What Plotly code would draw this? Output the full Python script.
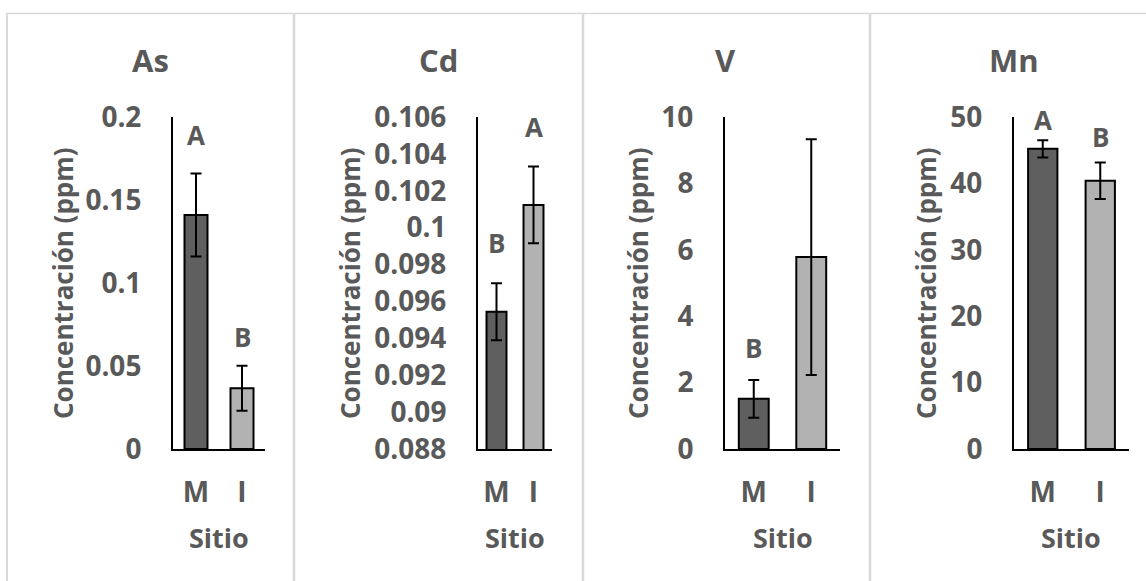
import plotly.graph_objects as go

# ---------------- data ----------------
sites = ["M", "I"]
elements = ["As", "Cd", "V", "Mn"]

as_mean = [0.141, 0.0366]
as_err = [0.025, 0.0135]
as_letters = ["A", "B"]
as_letter_y = [0.189, 0.0677]

cd_mean = [0.09544, 0.10123]
cd_err = [0.00154, 0.00208]
cd_letters = ["B", "A"]
cd_letter_y = [0.09917, 0.10546]

v_mean = [1.51, 5.78]
v_err = [0.57, 3.55]
v_letters = ["B", "A"]
v_letter_y = [3.04, 10.06]

mn_mean = [45.2, 40.4]
mn_err = [1.3, 2.75]
mn_letters = ["A", "B"]
mn_letter_y = [49.55, 46.99]

y_ranges = [[0, 0.2], [0.088, 0.106], [0, 10], [0, 50]]
y_dticks = [0.05, 0.002, 2, 10]

y_title = "Concentración (ppm)"
x_title = "Sitio"

# ---------------- layout helpers ----------------
W, H = 1146, 581
TXT = "#595959"
FONT = "Open Sans"
bar_colors = ["#5f5f5f", "#b2b2b2"]

def px_x(p):
    return p / W

def px_y(p):
    return (H - p) / H

# plot areas in pixels (left, right)
areas = [(173, 265), (478, 552), (725, 840), (1014, 1129)]
plot_top, plot_bottom = 117, 449
bar_widths = [0.5, 0.54, 0.52, 0.51]
title_x = [150, 438, 726, 1014]
ytitle_x = [63, 350, 638, 926]
sitio_x = [219, 515, 783, 1071]

means = [as_mean, cd_mean, v_mean, mn_mean]
errs = [as_err, cd_err, v_err, mn_err]
letters = [as_letters, cd_letters, v_letters, mn_letters]
letter_ys = [as_letter_y, cd_letter_y, v_letter_y, mn_letter_y]

fig = go.Figure()
annotations = []
for i, el in enumerate(elements):
    xa = "x" if i == 0 else f"x{i+1}"
    ya = "y" if i == 0 else f"y{i+1}"
    fig.add_trace(go.Bar(
        x=sites, y=means[i], xaxis=xa, yaxis=ya,
        width=bar_widths[i],
        marker=dict(color=bar_colors, line=dict(color="black", width=2)),
        error_y=dict(type="data", array=errs[i], visible=True,
                     color="black", thickness=2, width=5.5),
        showlegend=False,
        hoverinfo="skip",
    ))
    l, r = areas[i]
    axkey = "xaxis" if i == 0 else f"xaxis{i+1}"
    aykey = "yaxis" if i == 0 else f"yaxis{i+1}"
    fig.update_layout(**{
        axkey: dict(
            domain=[px_x(l), px_x(r)], anchor=ya,
            type="category", categoryorder="array", categoryarray=sites,
            range=[-0.5, 1.5], automargin=False,
            showline=True, linecolor="black", linewidth=2,
            showgrid=False, zeroline=False, ticks="",
            tickfont=dict(family=FONT, size=28, color=TXT, weight="bold"),
            ticklabelstandoff=17,
            fixedrange=True,
        ),
        aykey: dict(
            domain=[px_y(plot_bottom), px_y(plot_top)], anchor=xa,
            range=y_ranges[i], dtick=y_dticks[i], tick0=y_ranges[i][0],
            automargin=False,
            showline=True, linecolor="black", linewidth=2,
            showgrid=False, zeroline=False, ticks="",
            tickfont=dict(family=FONT, size=28, color=TXT, weight="bold"),
            ticklabelstandoff=24,
            fixedrange=True,
        ),
    })
    # panel title
    annotations.append(dict(
        text=el, xref="paper", yref="paper", x=px_x(title_x[i]), y=px_y(60),
        xanchor="center", yanchor="middle", showarrow=False,
        font=dict(family=FONT, size=31, color=TXT, weight="bold")))
    # y axis title
    annotations.append(dict(
        text=y_title, xref="paper", yref="paper", x=px_x(ytitle_x[i]), y=px_y(283),
        xanchor="center", yanchor="middle", showarrow=False, textangle=-90,
        font=dict(family=FONT, size=26, color=TXT, weight="bold")))
    # x axis title
    annotations.append(dict(
        text=x_title, xref="paper", yref="paper", x=px_x(sitio_x[i]), y=px_y(537),
        xanchor="center", yanchor="middle", showarrow=False,
        font=dict(family=FONT, size=27, color=TXT, weight="bold")))
    # significance letters
    for j, s in enumerate(sites):
        annotations.append(dict(
            text=letters[i][j], xref=xa, yref=ya, x=s, y=letter_ys[i][j],
            xanchor="center", yanchor="middle", showarrow=False,
            font=dict(family=FONT, size=26, color=TXT, weight="bold")))

# panel frame lines
frame_color = "#d9d9d9"
shapes = [
    dict(type="line", xref="paper", yref="paper", x0=px_x(6), x1=1,
         y0=px_y(13.5), y1=px_y(13.5), line=dict(color=frame_color, width=1.5)),
    dict(type="line", xref="paper", yref="paper", x0=px_x(7), x1=px_x(7),
         y0=0, y1=px_y(13.5), line=dict(color=frame_color, width=2)),
]
for dx in [294, 583, 870]:
    shapes.append(dict(type="line", xref="paper", yref="paper", x0=px_x(dx), x1=px_x(dx),
                       y0=0, y1=px_y(13.5), line=dict(color=frame_color, width=2.5)))

fig.update_layout(
    width=W, height=H,
    margin=dict(l=0, r=0, t=0, b=0, pad=0, autoexpand=False),
    paper_bgcolor="white", plot_bgcolor="white",
    annotations=annotations, shapes=shapes,
    bargap=0.5,
)

fig.write_html("out.html")
